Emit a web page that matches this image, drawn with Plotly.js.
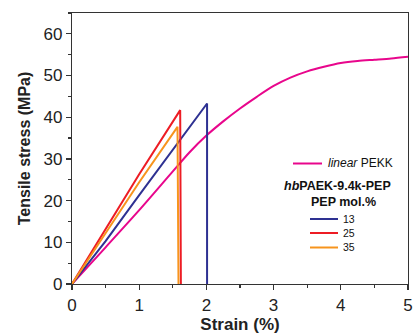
<!DOCTYPE html>
<html>
<head>
<meta charset="utf-8">
<script src="https://cdn.plot.ly/plotly-3.0.1.min.js"></script>
<style>html,body{margin:0;padding:0;background:#fff;}#chart{width:413px;height:334px;}</style>
</head>
<body>
<div id="chart"></div>
<script>
// Data
const pekkStrain = [0, 0.5, 1.0, 1.5, 1.75, 2.0, 2.25, 2.5, 2.75, 3.0, 3.25, 3.5, 3.75, 4.0, 4.25, 4.5, 4.75, 5.0];
const pekkStress = [0, 8.8, 17.7, 27.0, 31.6, 35.6, 39.0, 42.1, 44.9, 47.5, 49.5, 51.0, 52.1, 53.0, 53.5, 53.8, 54.1, 54.5];

const hb13Strain = [0, 0.5, 1.0, 1.5, 2.01, 2.01];
const hb13Stress = [0, 10.3, 21.3, 32.3, 43.3, 0];

const hb25Strain = [0, 0.5, 1.0, 1.61, 1.62];
const hb25Stress = [0, 13.0, 26.3, 41.7, 0];

const hb35Strain = [0, 0.5, 1.0, 1.57, 1.585];
const hb35Stress = [0, 12.2, 24.4, 37.7, 0];

const seriesNames = ['linear PEKK', '13', '25', '35'];
const colors = ['#e8068c', '#2e3192', '#ed1c24', '#f7941d'];

const FONT = 'Liberation Sans, Arial, Helvetica, sans-serif';

const traces = [
  {x: pekkStrain, y: pekkStress, name: seriesNames[0], line: {color: colors[0], width: 2, shape: 'spline', smoothing: 0.8}},
  {x: hb13Strain, y: hb13Stress, name: seriesNames[1], line: {color: colors[1], width: 2}},
  {x: hb25Strain, y: hb25Stress, name: seriesNames[2], line: {color: colors[2], width: 2}},
  {x: hb35Strain, y: hb35Stress, name: seriesNames[3], line: {color: colors[3], width: 2}}
].map(t => Object.assign({type: 'scatter', mode: 'lines', hoverinfo: 'x+y+name'}, t));

// helper: pixel -> paper coordinates for legend construction
const L = 72, R = 408, T = 13, B = 284;
const px = v => (v - L) / (R - L);
const py = v => (B - v) / (B - T);

const shapes = [];
const annotations = [];
function legendLine(x0, x1, y, color) {
  shapes.push({type: 'line', xref: 'paper', yref: 'paper', x0: px(x0), x1: px(x1), y0: py(y), y1: py(y),
    line: {color: color, width: 2}});
}
function legendText(x, y, text, size, anchor) {
  annotations.push({xref: 'paper', yref: 'paper', x: px(x), y: py(y), text: text, showarrow: false,
    xanchor: anchor || 'left', yanchor: 'middle', font: {family: FONT, size: size, color: '#111'}});
}
legendLine(293, 322, 163.5, colors[0]);
legendText(326, 163, '<i>linear</i> PEKK', 12);
legendText(337, 186, '<b><i>hb</i>PAEK-9.4k-PEP</b>', 12.5, 'center');
legendText(343, 202, '<b>PEP mol.%</b>', 12.5, 'center');
legendLine(310, 338, 219, colors[1]);
legendText(341, 219, seriesNames[1], 10.5);
legendLine(310, 338, 233, colors[2]);
legendText(341, 233, seriesNames[2], 10.5);
legendLine(310, 338, 247.5, colors[3]);
legendText(341, 247, seriesNames[3], 10.5);

const axisCommon = {
  showgrid: false, zeroline: false, showline: true, linecolor: '#333', linewidth: 1.2, mirror: true,
  ticks: 'outside', tickcolor: '#333', tickwidth: 1.2,
  tickfont: {family: FONT, size: 17, color: '#222'}
};

const layout = {
  width: 413, height: 334,
  margin: {l: L, r: 413 - R, t: T, b: 334 - B},
  paper_bgcolor: '#fff', plot_bgcolor: '#fff',
  showlegend: false,
  xaxis: Object.assign({}, axisCommon, {
    range: [0, 5], tick0: 0, dtick: 1, ticklen: 5,
    minor: {dtick: 0.5, ticks: 'outside', ticklen: 3, tickcolor: '#333', tickwidth: 1.2},
    title: {text: '<b>Strain (%)</b>', font: {family: FONT, size: 17, color: '#222'}, standoff: 6}
  }),
  yaxis: Object.assign({}, axisCommon, {
    range: [0, 65], tick0: 0, dtick: 10, ticklen: 5,
    minor: {dtick: 5, ticks: 'outside', ticklen: 3, tickcolor: '#333', tickwidth: 1.2},
    title: {text: '<b>Tensile stress (MPa)</b>', font: {family: FONT, size: 16, color: '#222'}, standoff: 8}
  }),
  shapes: shapes,
  annotations: annotations
};

Plotly.newPlot('chart', traces, layout, {displayModeBar: false, staticPlot: true});
</script>
</body>
</html>
